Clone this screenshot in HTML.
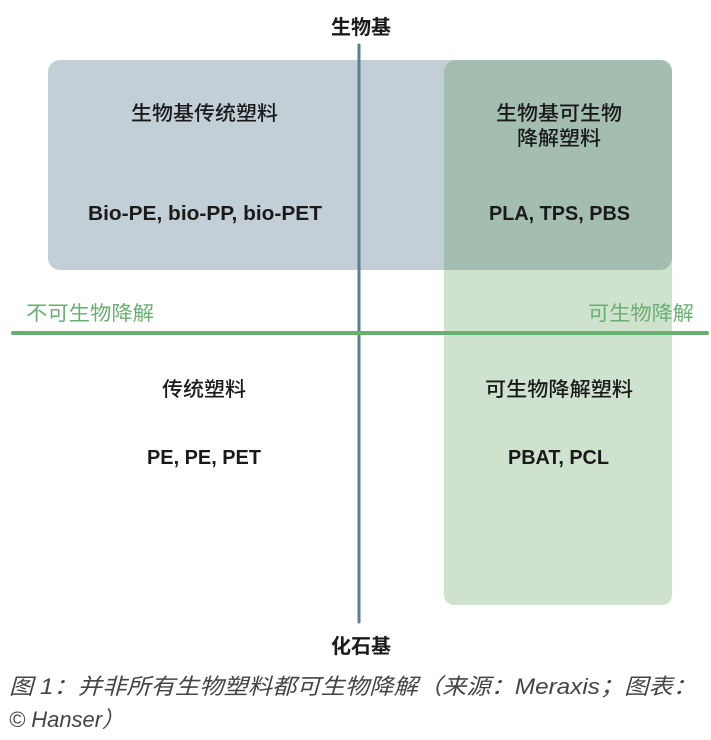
<!DOCTYPE html>
<html><head><meta charset="utf-8"><style>
body{margin:0;background:#fff;width:711px;height:735px;overflow:hidden}
svg text{font-family:"Liberation Sans","Noto Sans CJK SC",sans-serif}
</style></head><body>
<svg width="711" height="735" xmlns="http://www.w3.org/2000/svg">
<rect x="444" y="60" width="228" height="545" rx="10" fill="#cfe2cd"/>
<rect x="48" y="60" width="624" height="210" rx="12" fill="#c3cfd6"/>
<path d="M456,60 H660 A12,12 0 0 1 672,72 V258 A12,12 0 0 1 660,270 H444 V72 A12,12 0 0 1 456,60 Z" fill="#a3bdb0"/>
<line x1="359" y1="45" x2="359" y2="622" stroke="#5a8090" stroke-width="3" stroke-linecap="round"/>
<line x1="13" y1="333" x2="707" y2="333" stroke="#6aae72" stroke-width="4" stroke-linecap="round"/>
<g font-size="20" fill="#1a1a1a" text-anchor="middle" font-weight="bold">
<text x="361" y="34">生物基</text>
<text x="361" y="653">化石基</text>
</g>
<g font-size="20" fill="#1a1a1a" font-weight="500">
<text x="131" y="120" textLength="147" lengthAdjust="spacingAndGlyphs">生物基传统塑料</text>
<text x="496" y="120" textLength="126" lengthAdjust="spacingAndGlyphs">生物基可生物</text>
<text x="517" y="145" textLength="84" lengthAdjust="spacingAndGlyphs">降解塑料</text>
<text x="162" y="396" textLength="84" lengthAdjust="spacingAndGlyphs">传统塑料</text>
<text x="485" y="396" textLength="148" lengthAdjust="spacingAndGlyphs">可生物降解塑料</text>
</g>
<g font-size="20" fill="#1a1a1a" font-weight="bold">
<text x="88" y="220" textLength="234" lengthAdjust="spacingAndGlyphs">Bio-PE, bio-PP, bio-PET</text>
<text x="489" y="220" textLength="141" lengthAdjust="spacingAndGlyphs">PLA, TPS, PBS</text>
<text x="147" y="464" textLength="114" lengthAdjust="spacingAndGlyphs">PE, PE, PET</text>
<text x="508" y="464" textLength="101" lengthAdjust="spacingAndGlyphs">PBAT, PCL</text>
</g>
<g font-size="20" fill="#6aae72">
<text x="26" y="320" textLength="128" lengthAdjust="spacingAndGlyphs">不可生物降解</text>
<text x="588" y="320" textLength="106" lengthAdjust="spacingAndGlyphs">可生物降解</text>
</g>
<g font-size="22" fill="#444" font-style="italic">
<text x="9" y="694" textLength="688" lengthAdjust="spacingAndGlyphs">图 1：并非所有生物塑料都可生物降解（来源：Meraxis；图表：</text>
<text x="9" y="727" textLength="115" lengthAdjust="spacingAndGlyphs">© Hanser）</text>
</g>
</svg>
</body></html>
